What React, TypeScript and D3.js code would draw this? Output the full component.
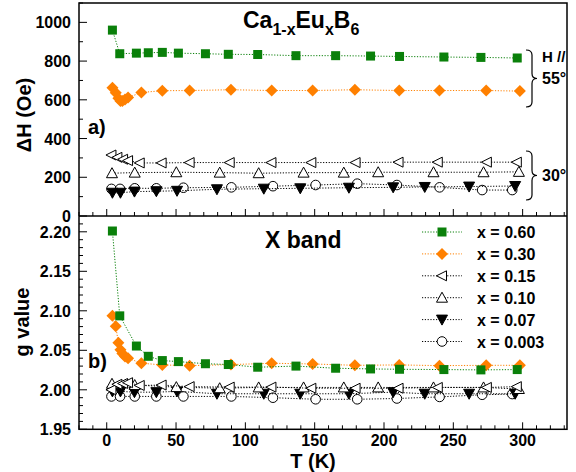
import React from "react";
import * as d3 from "d3";

// ---------- DATA ----------
// x = 0.60 (green squares)
const T060 = [4.1, 9.4, 21.4, 30, 40.1, 51.7, 71.2, 87.7, 108.9, 136.5, 165.1, 190.3, 211.2, 243.2, 269.9, 296.1];
const dH060 = [960, 838, 841, 843, 845, 841, 838, 835, 834, 828, 828, 826, 824, 821, 819, 816];
const g060 = [2.201, 2.0936, 2.0554, 2.0424, 2.037, 2.0357, 2.033, 2.032, 2.0286, 2.03, 2.0273, 2.0264, 2.026, 2.0256, 2.0252, 2.0256];
// x = 0.30 (orange diamonds)
const T030 = [4.1, 6.5, 8.4, 9.9, 11.3, 13.2, 15.4, 25, 40.1, 59.8, 89.6, 119, 148.5, 179, 211, 240, 273.7, 298];
const dH030 = [662, 636, 608, 594, 594, 602, 612, 638, 647, 648, 652, 648, 648, 652, 648, 648, 648, 645];
const g030 = [2.0936, 2.0806, 2.0596, 2.0508, 2.046, 2.042, 2.04, 2.0336, 2.0315, 2.0306, 2.0319, 2.0336, 2.0327, 2.031, 2.0315, 2.0306, 2.031, 2.031];
// x = 0.15 (open left triangles)
const T015 = [3.4, 7.7, 11.8, 15.4, 23.8, 39.6, 59.8, 88.7, 118.8, 147.6, 179.5, 210.5, 238.8, 274.2, 295.8];
const dH015 = [315, 303, 293, 286, 274, 274, 276, 276, 276, 276, 276, 278, 278, 278, 278];
const g015 = [2.0, 2.007, 2.008, 2.009, 2.0055, 2.006, 2.004, 2.0034, 2.0034, 2.002, 2.002, 2.002, 2.003, 2.003, 2.004];
// x = 0.10 (open up triangles)
const T010 = [3.8, 20.2, 50.2, 81.5, 109.6, 142, 171, 195.8, 235.7, 271.8, 297.3];
const dH010 = [221, 224, 226, 224, 221, 224, 224, 226, 226, 226, 228];
const g010 = [2.0076, 2.006, 2.0034, 2.002, 2.003, 2.003, 2.003, 2.003, 2.003, 2.003, 2.001];
// x = 0.07 (filled down triangles)
const T007 = [4.1, 9.9, 20, 35.8, 50.7, 79.5, 113.3, 139.6, 174.7, 206.6, 229.4, 261.4, 294.6];
const dH007 = [120, 120, 126, 128, 130, 138, 141, 143, 146, 148, 150, 152, 155];
const g007 = [1.998, 1.998, 1.997, 1.997, 1.998, 1.995, 1.995, 1.995, 1.995, 1.997, 1.995, 1.995, 1.995];
// x = 0.003 (open circles)
const T0003 = [3.4, 9.6, 20.2, 35.8, 55.3, 89.9, 119.9, 150.7, 180.7, 209.3, 240.1, 270.8, 292.5];
const dH0003 = [140, 140, 143, 143, 146, 148, 154, 160, 167, 160, 148, 134, 134];
const g0003 = [1.9916, 1.9916, 1.9916, 1.9916, 1.9916, 1.9916, 1.99, 1.988, 1.988, 1.989, 1.991, 1.9937, 1.9946];

const xTicks = [0, 50, 100, 150, 200, 250, 300];
const topTicks = [0, 200, 400, 600, 800, 1000];
const botTicks = [1.95, 2.0, 2.05, 2.1, 2.15, 2.2];
const legendLabels = ["x = 0.60", "x = 0.30", "x = 0.15", "x = 0.10", "x = 0.07", "x = 0.003"];

// ---------- LAYOUT ----------
const W = 576, H = 472;
const L = 79, R = 567, TOP = 3, MID = 216, BOT = 429.3;
const FONT = "'Liberation Sans', Arial, Helvetica, sans-serif";
const GREEN = "#0a800a";
const ORANGE = "#ff8000";

const x = d3.scaleLinear().domain([-20, 332]).range([L, R]);
const yT = d3.scaleLinear().domain([0, 1100]).range([MID, TOP]);
const yB = d3.scaleLinear().domain([1.95, 2.22]).range([BOT, MID]);

type Kind = "square" | "diamond" | "left" | "up" | "down" | "circle";

function Marker({ kind, cx, cy, color }: { kind: Kind; cx: number; cy: number; color: string }) {
  const sw = 1;
  switch (kind) {
    case "square":
      return <rect x={cx - 4.5} y={cy - 4.5} width={9} height={9} fill={color} />;
    case "diamond":
      return <path d={`M${cx},${cy - 6}L${cx + 6},${cy}L${cx},${cy + 6}L${cx - 6},${cy}Z`} fill={color} />;
    case "left":
      return <path d={`M${cx - 5.5},${cy}L${cx + 4.5},${cy - 5}L${cx + 4.5},${cy + 5}Z`} fill="white" stroke="black" strokeWidth={sw} />;
    case "up":
      return <path d={`M${cx},${cy - 5.5}L${cx + 5.5},${cy + 4.5}L${cx - 5.5},${cy + 4.5}Z`} fill="white" stroke="black" strokeWidth={sw} />;
    case "down":
      return <path d={`M${cx},${cy + 5.5}L${cx + 5.5},${cy - 4.5}L${cx - 5.5},${cy - 4.5}Z`} fill="black" stroke="black" strokeWidth={sw} />;
    case "circle":
      return <circle cx={cx} cy={cy} r={4.8} fill="white" stroke="black" strokeWidth={sw} />;
  }
}

interface Series { T: number[]; top: number[]; bot: number[]; kind: Kind; color: string; line: string; }
const series: Series[] = [
  { T: T0003, top: dH0003, bot: g0003, kind: "circle", color: "black", line: "black" },
  { T: T007, top: dH007, bot: g007, kind: "down", color: "black", line: "black" },
  { T: T010, top: dH010, bot: g010, kind: "up", color: "black", line: "black" },
  { T: T015, top: dH015, bot: g015, kind: "left", color: "black", line: "black" },
  { T: T030, top: dH030, bot: g030, kind: "diamond", color: ORANGE, line: ORANGE },
  { T: T060, top: dH060, bot: g060, kind: "square", color: GREEN, line: GREEN },
];
const legendSeries = [5, 4, 3, 2, 1, 0].map((i) => series[i]);

function Panel({ y, which }: { y: d3.ScaleLinear<number, number>; which: "top" | "bot" }) {
  const line = d3.line<[number, number]>().x((d) => x(d[0])).y((d) => y(d[1]));
  return (
    <g>
      {series.map((s, i) => {
        const vals = which === "top" ? s.top : s.bot;
        const pts = s.T.map((t, j) => [t, vals[j]] as [number, number]);
        return (
          <g key={i}>
            <path d={line(pts) || ""} fill="none" stroke={s.line} strokeWidth={1} strokeDasharray="1.2,1.6" />
            {pts.map((p, j) => (
              <Marker key={j} kind={s.kind} cx={x(p[0])} cy={y(p[1])} color={s.color} />
            ))}
          </g>
        );
      })}
    </g>
  );
}

function brace(x0: number, y0: number, y1: number) {
  const x1 = x0 + 6, x2 = x0 + 11, ym = (y0 + y1) / 2, r = 5;
  return `M${x0},${y0} Q${x1},${y0} ${x1},${y0 + r} L${x1},${ym - r} Q${x1},${ym} ${x2},${ym} Q${x1},${ym} ${x1},${ym + r} L${x1},${y1 - r} Q${x1},${y1} ${x0},${y1}`;
}

export default function App() {
  const xMinor = d3.range(-20, 331, 10);
  const yTMinor = d3.range(0, 1101, 100);
  const yBMinor = d3.range(195, 222, 1).map((v) => v / 100);
  return (
    <svg width={W} height={H} style={{ position: "absolute", left: 0, top: 0, background: "white" }} fontFamily={FONT} fontWeight="bold">
      <rect x={0} y={0} width={W} height={H} fill="white" />
      <defs>
        <clipPath id="clipT"><rect x={L} y={TOP} width={R - L} height={MID - TOP} /></clipPath>
        <clipPath id="clipB"><rect x={L} y={MID} width={R - L} height={BOT - MID} /></clipPath>
      </defs>

      {/* ticks: x axis of both panels */}
      {xMinor.map((t) => {
        const major = t % 50 === 0;
        const len = major ? 7 : 4;
        return (
          <g key={"xt" + t}>
            <line x1={x(t)} x2={x(t)} y1={MID} y2={MID - len} stroke="black" strokeWidth={1} />
            <line x1={x(t)} x2={x(t)} y1={BOT} y2={BOT - len} stroke="black" strokeWidth={1} />
          </g>
        );
      })}
      {yTMinor.map((v) => {
        const major = v % 200 === 0;
        return <line key={"yt" + v} x1={L} x2={L + (major ? 8 : 4)} y1={yT(v)} y2={yT(v)} stroke="black" strokeWidth={1} />;
      })}
      {yBMinor.map((v, i) => {
        const major = Math.round(v * 100) % 5 === 0;
        return <line key={"yb" + i} x1={L} x2={L + (major ? 8 : 4)} y1={yB(v)} y2={yB(v)} stroke="black" strokeWidth={1} />;
      })}

      {/* tick labels */}
      {xTicks.map((t) => (
        <text key={"xl" + t} x={x(t)} y={446} textAnchor="middle" fontSize={16}>{t}</text>
      ))}
      {topTicks.map((v) => (
        <text key={"tl" + v} x={71} y={yT(v) + 6} textAnchor="end" fontSize={16}>{v}</text>
      ))}
      {botTicks.map((v) => (
        <text key={"bl" + v} x={71} y={yB(v) + 6} textAnchor="end" fontSize={16}>{v.toFixed(2)}</text>
      ))}

      {/* axis labels */}
      <text transform={`translate(31,115) rotate(-90)`} textAnchor="middle" fontSize={20}>ΔH (Oe)</text>
      <text transform={`translate(29,322) rotate(-90)`} textAnchor="middle" fontSize={20}>g value</text>
      <text x={313} y={468} textAnchor="middle" fontSize={20}>T (K)</text>

      {/* annotations */}
      <text x={243} y={28} fontSize={23}>
        Ca<tspan fontSize={16} dy={7}>1-x</tspan>
        <tspan dy={-7}>Eu</tspan>
        <tspan fontSize={16} dy={7}>x</tspan>
        <tspan dy={-7}>B</tspan>
        <tspan fontSize={16} dy={7}>6</tspan>
      </text>
      <text x={265} y={248} fontSize={23}>X band</text>
      <text x={88} y={134} fontSize={20}>a)</text>
      <text x={88} y={368} fontSize={20}>b)</text>

      <path d={brace(526, 50, 107)} fill="none" stroke="black" strokeWidth={1.2} />
      <path d={brace(526, 151, 200)} fill="none" stroke="black" strokeWidth={1.2} />
      <text x={542} y={62} fontSize={15}>H //</text>
      <text x={542} y={84} fontSize={16}>55°</text>
      <text x={542} y={181} fontSize={16}>30°</text>

      {/* data */}
      <g clipPath="url(#clipT)"><Panel y={yT} which="top" /></g>
      <g clipPath="url(#clipB)"><Panel y={yB} which="bot" /></g>

      {/* legend */}
      {legendSeries.map((s, i) => {
        const ly = 232 + i * 21.9;
        return (
          <g key={"lg" + i}>
            <line x1={422} x2={462} y1={ly} y2={ly} stroke={s.line} strokeWidth={1} strokeDasharray="1.2,1.6" />
            <Marker kind={s.kind} cx={442} cy={ly} color={s.color} />
            <text x={477} y={ly + 6} fontSize={16}>{legendLabels[i]}</text>
          </g>
        );
      })}

      {/* frame */}
      <rect x={L} y={TOP} width={R - L} height={BOT - TOP} fill="none" stroke="black" strokeWidth={1.5} />
      <line x1={L} x2={R} y1={MID} y2={MID} stroke="black" strokeWidth={1.5} />
    </svg>
  );
}
